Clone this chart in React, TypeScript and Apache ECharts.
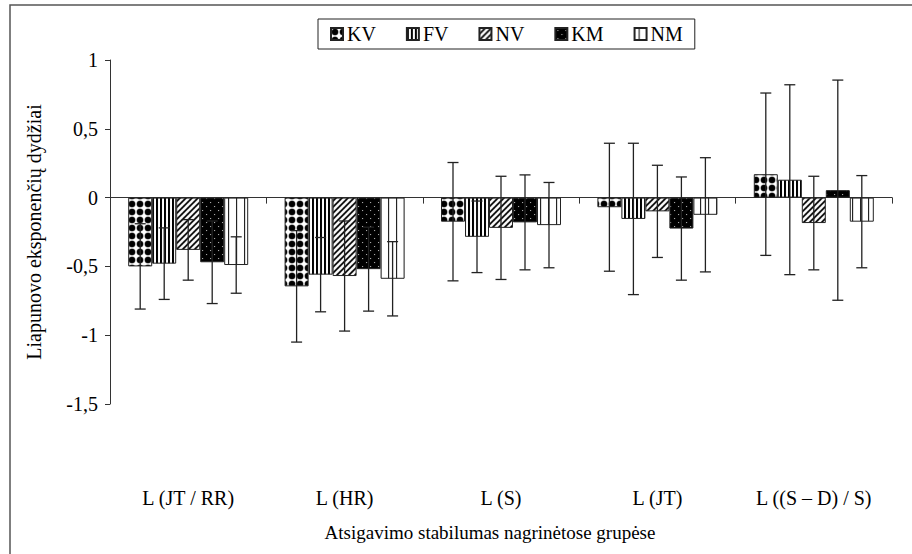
import React, { useEffect, useRef } from "react";
import * as echarts from "echarts";

const categories = ["L (JT / RR)", "L (HR)", "L (S)", "L (JT)", "L ((S – D) / S)"];
const seriesNames = ["KV", "FV", "NV", "KM", "NM"];
const kvMean = [-0.5, -0.645, -0.175, -0.07, 0.17];
const kvSd = [0.31, 0.405, 0.43, 0.465, 0.59];
const fvMean = [-0.48, -0.56, -0.285, -0.155, 0.13];
const fvSd = [0.26, 0.27, 0.26, 0.55, 0.69];
const nvMean = [-0.38, -0.57, -0.22, -0.1, -0.185];
const nvSd = [0.22, 0.4, 0.375, 0.335, 0.34];
const kmMean = [-0.47, -0.52, -0.18, -0.225, 0.054];
const kmSd = [0.3, 0.305, 0.345, 0.375, 0.8];
const nmMean = [-0.49, -0.59, -0.2, -0.125, -0.175];
const nmSd = [0.205, 0.27, 0.31, 0.415, 0.335];
const yTicks = { min: -1.5, max: 1, interval: 0.5 };

const means = [kvMean, fvMean, nvMean, kmMean, nmMean];
const sds = [kvSd, fvSd, nvSd, kmSd, nmSd];

const BAR_W = 24;
const FONT = "'Liberation Serif', 'Times New Roman', serif";

function makePattern(w: number, h: number, bg: string, draw: (ctx: CanvasRenderingContext2D) => void) {
  const s = 3;
  const c = document.createElement("canvas");
  c.width = w * s;
  c.height = h * s;
  const ctx = c.getContext("2d") as CanvasRenderingContext2D;
  ctx.scale(s, s);
  ctx.fillStyle = bg;
  ctx.fillRect(0, 0, w, h);
  draw(ctx);
  return { image: c, repeat: "repeat", imageWidth: w, imageHeight: h } as any;
}

function buildPatterns() {
  const kv = makePattern(8, 8, "#fff", (ctx) => {
    ctx.fillStyle = "#000";
    ctx.beginPath();
    ctx.arc(4, 4, 3.4, 0, Math.PI * 2);
    ctx.fill();
  });
  const fv = makePattern(4, 4, "#fff", (ctx) => {
    ctx.fillStyle = "#000";
    ctx.fillRect(0, 0, 2, 4);
  });
  const nv = makePattern(6, 6, "#fff", (ctx) => {
    ctx.strokeStyle = "#000";
    ctx.lineWidth = 1.8;
    ctx.beginPath();
    ctx.moveTo(-1, 7);
    ctx.lineTo(7, -1);
    ctx.moveTo(-1, 1);
    ctx.lineTo(1, -1);
    ctx.moveTo(5, 7);
    ctx.lineTo(7, 5);
    ctx.stroke();
  });
  const km = makePattern(8, 8, "#000", (ctx) => {
    ctx.fillStyle = "#fff";
    ctx.fillRect(2, 2, 1, 0.8);
    ctx.fillRect(6, 6, 1, 0.8);
  });
  const nm = makePattern(8, 8, "#fff", (ctx) => {
    ctx.fillStyle = "#000";
    ctx.fillRect(4, 0, 1, 8);
  });
  return [kv, fv, nv, km, nm];
}

export default function App() {
  const ref = useRef<HTMLDivElement>(null);
  useEffect(() => {
    if (!ref.current) return;
    const chart = echarts.init(ref.current, null, { renderer: "svg" });
    const patterns = buildPatterns();

    const barSeries = seriesNames.map((name, i) => ({
      name,
      type: "bar",
      xAxisIndex: 0,
      yAxisIndex: 0,
      barWidth: BAR_W,
      barGap: "0%",
      data: means[i],
      itemStyle: { color: patterns[i], borderColor: "#222", borderWidth: 1 },
      z: 2,
    }));

    const errData: number[][] = [];
    means.forEach((m, s) => {
      m.forEach((v, c) => {
        errData.push([c, s, v - sds[s][c], v + sds[s][c]]);
      });
    });

    const errSeries = {
      type: "custom",
      xAxisIndex: 0,
      yAxisIndex: 0,
      z: 10,
      silent: true,
      encode: { x: 0, y: [2, 3] },
      data: errData,
      renderItem: (params: any, api: any) => {
        const c = api.value(0);
        const s = api.value(1);
        const lo = api.coord([c, api.value(2)]);
        const hi = api.coord([c, api.value(3)]);
        const x = lo[0] + (s - 2) * BAR_W;
        const cap = 5.5;
        const st = { stroke: "#222", lineWidth: 1.3 };
        return {
          type: "group",
          children: [
            { type: "line", shape: { x1: x, y1: hi[1], x2: x, y2: lo[1] }, style: st },
            { type: "line", shape: { x1: x - cap, y1: hi[1], x2: x + cap, y2: hi[1] }, style: st },
            { type: "line", shape: { x1: x - cap, y1: lo[1], x2: x + cap, y2: lo[1] }, style: st },
          ],
        };
      },
    };

    chart.setOption({
      animation: false,
      backgroundColor: "#fff",
      textStyle: { fontFamily: FONT, color: "#000" },
      grid: { left: 110, right: 20, top: 60, bottom: 150 },
      legend: {
        data: seriesNames,
        left: 318,
        top: 19,
        icon: "rect",
        itemWidth: 12,
        itemHeight: 12,
        itemGap: 30,
        padding: [5, 12, 5, 12],
        borderColor: "#222",
        borderWidth: 1,
        textStyle: { fontFamily: FONT, fontSize: 20, color: "#000", padding: [0, 0, 0, -1] },
      },
      xAxis: [
        {
          type: "category",
          data: categories,
          position: "bottom",
          axisLine: { onZero: true, lineStyle: { color: "#333", width: 1 } },
          axisTick: { show: true, length: 6, lineStyle: { color: "#333" } },
          axisLabel: { show: false },
          splitLine: { show: false },
        },
        {
          type: "category",
          data: categories,
          position: "bottom",
          axisLine: { show: false, onZero: false },
          axisTick: { show: false },
          axisLabel: { interval: 0, margin: 84, fontFamily: FONT, fontSize: 20, color: "#000" },
          splitLine: { show: false },
        },
      ],
      yAxis: {
        type: "value",
        min: yTicks.min,
        max: yTicks.max,
        interval: yTicks.interval,
        name: "Liapunovo eksponenčių dydžiai",
        nameLocation: "middle",
        nameGap: 66,
        nameTextStyle: { fontFamily: FONT, fontSize: 20, color: "#000" },
        axisLine: { show: true, lineStyle: { color: "#333", width: 1 } },
        axisTick: { show: true, length: 5, lineStyle: { color: "#333" } },
        axisLabel: {
          margin: 12,
          fontFamily: FONT,
          fontSize: 20,
          color: "#000",
          formatter: (v: number) => String(v).replace(".", ","),
        },
        splitLine: { show: false },
      },
      graphic: [
        {
          type: "rect",
          shape: { x: 10, y: 5, width: 1000, height: 1000 },
          style: { fill: "none", stroke: "#555", lineWidth: 1.5 },
          silent: true,
          z: 100,
        },
        {
          type: "text",
          x: 490,
          y: 532,
          style: {
            text: "Atsigavimo stabilumas nagrinėtose grupėse",
            font: `19px ${FONT}`,
            fill: "#000",
            textAlign: "center",
            textVerticalAlign: "middle",
          },
        },
      ],
      series: [...barSeries, errSeries],
    });
    return () => chart.dispose();
  }, []);
  return <div ref={ref} style={{ position: "absolute", left: 0, top: 0, width: 912, height: 554 }} />;
}
